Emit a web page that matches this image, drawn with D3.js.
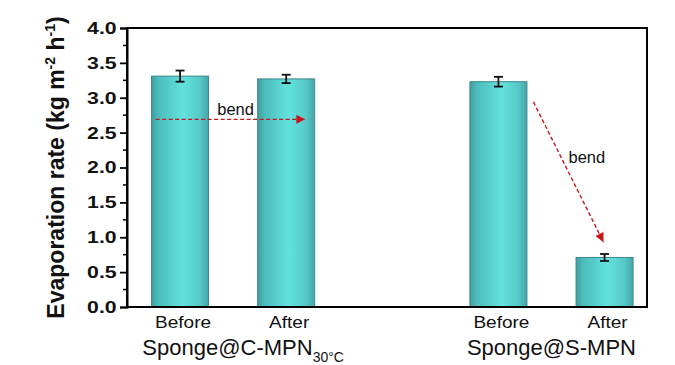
<!DOCTYPE html>
<html>
<head>
<meta charset="utf-8">
<script src="https://cdn.jsdelivr.net/npm/d3@7"></script>
<style>
  body { margin: 0; background: #fff; }
  text { font-family: Arial, "Liberation Sans", sans-serif; }
</style>
</head>
<body>
<div class="bar"></div>
<script>
// bar data
const samples = ["Before", "After", "Before", "After"];
const positions = [1, 2, 4, 5];
const rates = [3.31, 3.27, 3.23, 0.71];
const errors = [0.08, 0.06, 0.07, 0.05];
const groups = ["Sponge@C-MPN", "Sponge@S-MPN"];
const groupSubs = ["30°C", ""];
const yTicks = [0, 0.5, 1, 1.5, 2, 2.5, 3, 3.5, 4];

// the two "bend" arrows, in data units: [x1, y1, x2, y2]
const arrows = [[0.77, 2.69, 2.18, 2.69], [4.33, 2.94, 4.99, 0.93]];
const arrowLabels = [[1.35, 2.75], [4.66, 2.07]];

const w = 675, h = 365;
const mLeft = 127, mRight = 647, mTop = 28, mBottom = 307;

const svg = d3.select(".bar").append("svg").attr("width", w).attr("height", h);

const x = d3.scaleLinear().domain([0.5, 5.4]).range([mLeft, mRight]);
const y = d3.scaleLinear().domain([0, 4]).range([mBottom, mTop]);
const barW = 57;

const defs = svg.append("defs");
const grad = defs.append("linearGradient").attr("id", "cyl").attr("x1", "0%").attr("x2", "100%");
[["0%", "#3f9e9f"], ["12%", "#4cbcbc"], ["55%", "#62e2de"], ["85%", "#55c9c8"], ["100%", "#45a6a7"]]
  .forEach(s => grad.append("stop").attr("offset", s[0]).attr("stop-color", s[1]));

defs.append("marker")
  .attr("id", "head")
  .attr("viewBox", "0 0 10 10")
  .attr("refX", 10).attr("refY", 5)
  .attr("markerWidth", 10).attr("markerHeight", 9)
  .attr("markerUnits", "userSpaceOnUse")
  .attr("orient", "auto")
  .append("path").attr("d", "M0,0L10,5L0,10Z").attr("fill", "#c8151b");

const data = samples.map((s, i) => ({ label: s, pos: positions[i], value: rates[i], err: errors[i] }));

// bars
svg.selectAll("rect.b")
  .data(data)
  .enter()
  .append("rect")
  .attr("class", "b")
  .attr("x", d => x(d.pos) - barW / 2)
  .attr("y", d => y(d.value))
  .attr("width", barW)
  .attr("height", d => y(0) - y(d.value))
  .attr("fill", "url(#cyl)")
  .attr("stroke", "#3a8788")
  .attr("stroke-width", 1);

// error bars
const eb = svg.selectAll("g.err").data(data).enter().append("g").attr("class", "err")
  .attr("stroke", "#111").attr("stroke-width", 1.8);
eb.append("line")
  .attr("x1", d => x(d.pos)).attr("x2", d => x(d.pos))
  .attr("y1", d => y(d.value + d.err)).attr("y2", d => y(d.value - d.err));
[1, -1].forEach(sign => {
  eb.append("line")
    .attr("x1", d => x(d.pos) - 4.5).attr("x2", d => x(d.pos) + 4.5)
    .attr("y1", d => y(d.value + sign * d.err)).attr("y2", d => y(d.value + sign * d.err));
});

// arrows
svg.selectAll("line.arrow")
  .data(arrows)
  .enter()
  .append("line")
  .attr("x1", d => x(d[0])).attr("y1", d => y(d[1]))
  .attr("x2", d => x(d[2])).attr("y2", d => y(d[3]))
  .attr("stroke", "#c8151b")
  .attr("stroke-width", 1.4)
  .attr("stroke-dasharray", "4,2.5")
  .attr("marker-end", "url(#head)");

svg.selectAll("text.bend")
  .data(arrowLabels)
  .enter()
  .append("text")
  .attr("x", d => x(d[0])).attr("y", d => y(d[1]))
  .attr("font-size", 16.5)
  .attr("fill", "#111")
  .text("bend");

// frame
svg.append("rect")
  .attr("x", mLeft).attr("y", mTop)
  .attr("width", mRight - mLeft).attr("height", mBottom - mTop)
  .attr("fill", "none").attr("stroke", "#000").attr("stroke-width", 2);

// y axis
const yAxis = svg.append("g")
  .attr("transform", `translate(${mLeft},0)`)
  .call(d3.axisLeft(y).tickValues(yTicks).tickFormat(d3.format(".1f")).tickSize(7).tickPadding(3));
yAxis.select(".domain").attr("stroke-width", 2);
yAxis.selectAll(".tick line").attr("stroke-width", 1.8);
yAxis.selectAll(".tick text")
  .attr("font-size", 17).attr("font-weight", "bold").attr("fill", "#111")
  .attr("font-family", "Arial, 'Liberation Sans', sans-serif")
  .attr("transform", "scale(1.25,1)")
  .attr("x", -8.3);

// minor ticks
svg.append("g")
  .selectAll("line")
  .data(d3.range(0.25, 4, 0.5))
  .enter()
  .append("line")
  .attr("x1", mLeft).attr("x2", mLeft - 4)
  .attr("y1", d => y(d)).attr("y2", d => y(d))
  .attr("stroke", "#000").attr("stroke-width", 1.5);

// axis title
const title = svg.append("text")
  .attr("transform", `translate(64,${(mTop + mBottom) / 2}) rotate(-90)`)
  .attr("text-anchor", "middle")
  .attr("font-size", 23)
  .attr("font-weight", "bold")
  .attr("fill", "#111");
title.append("tspan").text("Evaporation rate (kg m");
title.append("tspan").attr("dy", -9).attr("font-size", 14).text("-2");
title.append("tspan").attr("dy", 9).text(" h");
title.append("tspan").attr("dy", -9).attr("font-size", 14).text("-1");
title.append("tspan").attr("dy", 9).text(")");

// category labels
svg.selectAll("text.cat")
  .data(data)
  .enter()
  .append("text")
  .attr("class", "cat")
  .attr("transform", d => `translate(${x(d.pos) + 3},328) scale(1.12,1)`)
  .attr("text-anchor", "middle")
  .attr("font-size", 17)
  .attr("fill", "#111")
  .text(d => d.label);

// group labels
groups.forEach((g, i) => {
  const cx = (x(positions[i * 2]) + x(positions[i * 2 + 1])) / 2;
  const t = svg.append("text")
    .attr("x", cx)
    .attr("y", 355)
    .attr("text-anchor", "middle")
    .attr("font-size", 22)
    .attr("fill", "#111");
  t.append("tspan").text(g);
  if (groupSubs[i]) {
    t.attr("dx", 10);
    t.append("tspan").attr("dy", 7).attr("font-size", 14).text(groupSubs[i]);
  }
});
</script>
</body>
</html>
